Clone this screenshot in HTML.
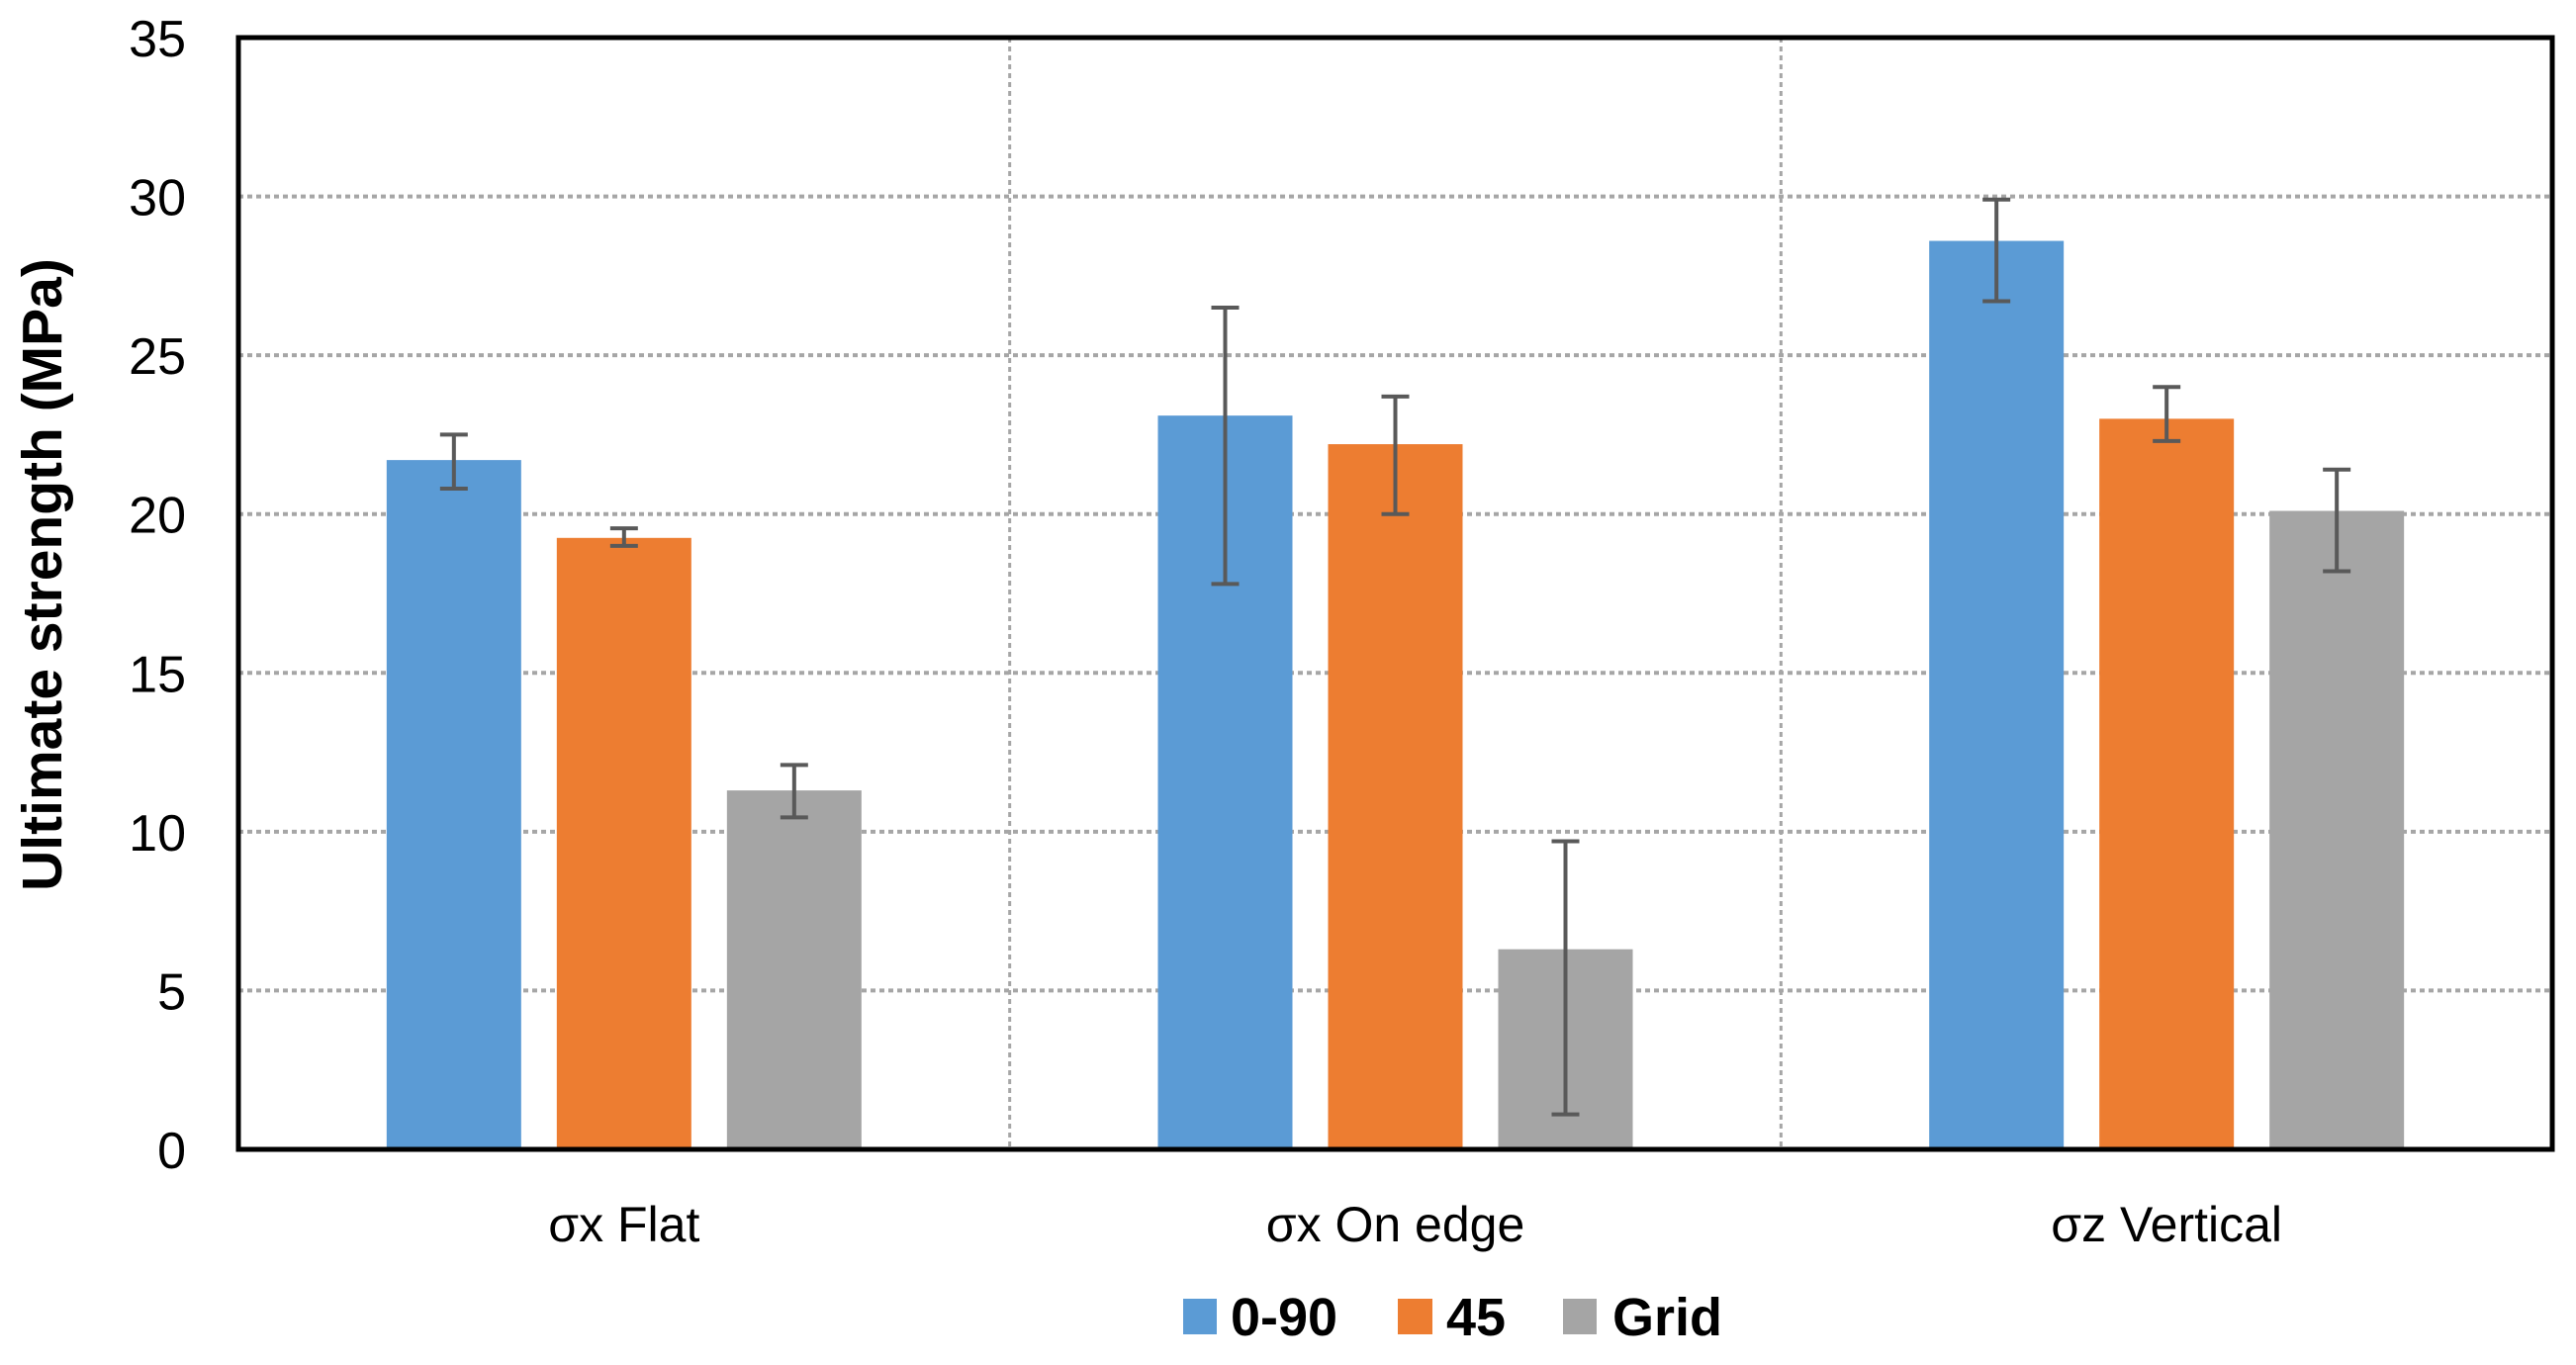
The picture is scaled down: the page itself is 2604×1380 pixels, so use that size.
<!DOCTYPE html>
<html><head><meta charset="utf-8"><style>
body{margin:0;background:#fff;}
svg{display:block;font-family:"Liberation Sans",sans-serif;}
</style></head><body>
<svg id="chart" width="2604" height="1380" viewBox="0 0 2604 1380">
<g id="grid"></g>
<g id="bars"></g>
<g id="errs"></g>
<rect x="241" y="38" width="2339" height="1124" fill="none" stroke="#000" stroke-width="5"/>
<g id="yticks"></g>
<g id="xticks"></g>
<text x="0" y="0" transform="translate(62,581) rotate(-90)" text-anchor="middle" font-size="57" font-weight="bold">Ultimate strength (MPa)</text>
<g id="legend">
<g><rect x="1196" y="1313" width="34" height="36" fill="#5b9bd5"/><text x="1244" y="1350" font-size="54" font-weight="bold">0-90</text></g>
<g><rect x="1413" y="1313" width="35" height="36" fill="#ed7d31"/><text x="1462" y="1350" font-size="54" font-weight="bold">45</text></g>
<g><rect x="1580" y="1313" width="34" height="36" fill="#a5a5a5"/><text x="1630" y="1350" font-size="54" font-weight="bold">Grid</text></g>
</g>
</svg>
<script>
const categories = ["σx Flat", "σx On edge", "σz Vertical"];
const seriesNames = ["0-90", "45", "Grid"];
const values090 = [21.7, 23.1, 28.6];
const values45 = [19.25, 22.2, 23.0];
const valuesGrid = [11.3, 6.3, 20.1];
const low090 = [20.8, 17.8, 26.7];
const high090 = [22.5, 26.5, 29.9];
const low45 = [19.0, 20.0, 22.3];
const high45 = [19.55, 23.7, 24.0];
const lowGrid = [10.45, 1.1, 18.2];
const highGrid = [12.1, 9.7, 21.4];
const yTicks = [0, 5, 10, 15, 20, 25, 30, 35];

const NS = "http://www.w3.org/2000/svg";
const L = 241, R = 2580, T = 38, B = 1162, YMAX = 35;
const y = v => B - (v / YMAX) * (B - T);
const gw = (R - L) / categories.length;
const barW = 136, barGap = 36;
const xBar = (ci, si) => L + gw * ci + gw / 2 - (3 * barW + 2 * barGap) / 2 + si * (barW + barGap);
function mk(tag, attrs, parent) {
  const e = document.createElementNS(NS, tag);
  for (const k in attrs) e.setAttribute(k, attrs[k]);
  parent.appendChild(e);
  return e;
}
const grid = document.getElementById("grid");
const yt = document.getElementById("yticks");
yTicks.forEach(t => {
  if (t > 0 && t < YMAX) {
    const ln = mk("line", {x1: L, x2: R, y1: y(t), y2: y(t), stroke: "#a6a6a6", "stroke-width": 4, "stroke-dasharray": "5 4"}, grid);
    
    
  }
  const tx = mk("text", {x: 188, y: y(t) + 19, "text-anchor": "end", "font-size": 52}, yt);
  tx.textContent = t;
  
  
});
for (let i = 1; i < categories.length; i++) {
  const ln = mk("line", {x1: L + gw * i, x2: L + gw * i, y1: T, y2: B, stroke: "#a6a6a6", "stroke-width": 3, "stroke-dasharray": "5 4"}, grid);
  
  
}
const xt = document.getElementById("xticks");
categories.forEach((c, i) => {
  const tx = mk("text", {x: L + gw * i + gw / 2, y: 1255, "text-anchor": "middle", "font-size": 50}, xt);
  tx.textContent = c;
  
  
});
const series = [values090, values45, valuesGrid];
const lows = [low090, low45, lowGrid];
const highs = [high090, high45, highGrid];
const colors = ["#5b9bd5", "#ed7d31", "#a5a5a5"];
const bars = document.getElementById("bars");
const errs = document.getElementById("errs");
series.forEach((vals, si) => {
  vals.forEach((v, ci) => {
    const x = xBar(ci, si);
    const r = mk("rect", {x: x, y: y(v), width: barW, height: B - y(v), fill: colors[si]}, bars);
    
    
    const cx = x + barW / 2;
    const g = mk("g", {stroke: "#595959", "stroke-width": 4}, errs);
    
    
    mk("line", {x1: cx, x2: cx, y1: y(lows[si][ci]), y2: y(highs[si][ci])}, g);
    mk("line", {x1: cx - 14, x2: cx + 14, y1: y(lows[si][ci]), y2: y(lows[si][ci])}, g);
    mk("line", {x1: cx - 14, x2: cx + 14, y1: y(highs[si][ci]), y2: y(highs[si][ci])}, g);
  });
});
</script>
</body></html>
